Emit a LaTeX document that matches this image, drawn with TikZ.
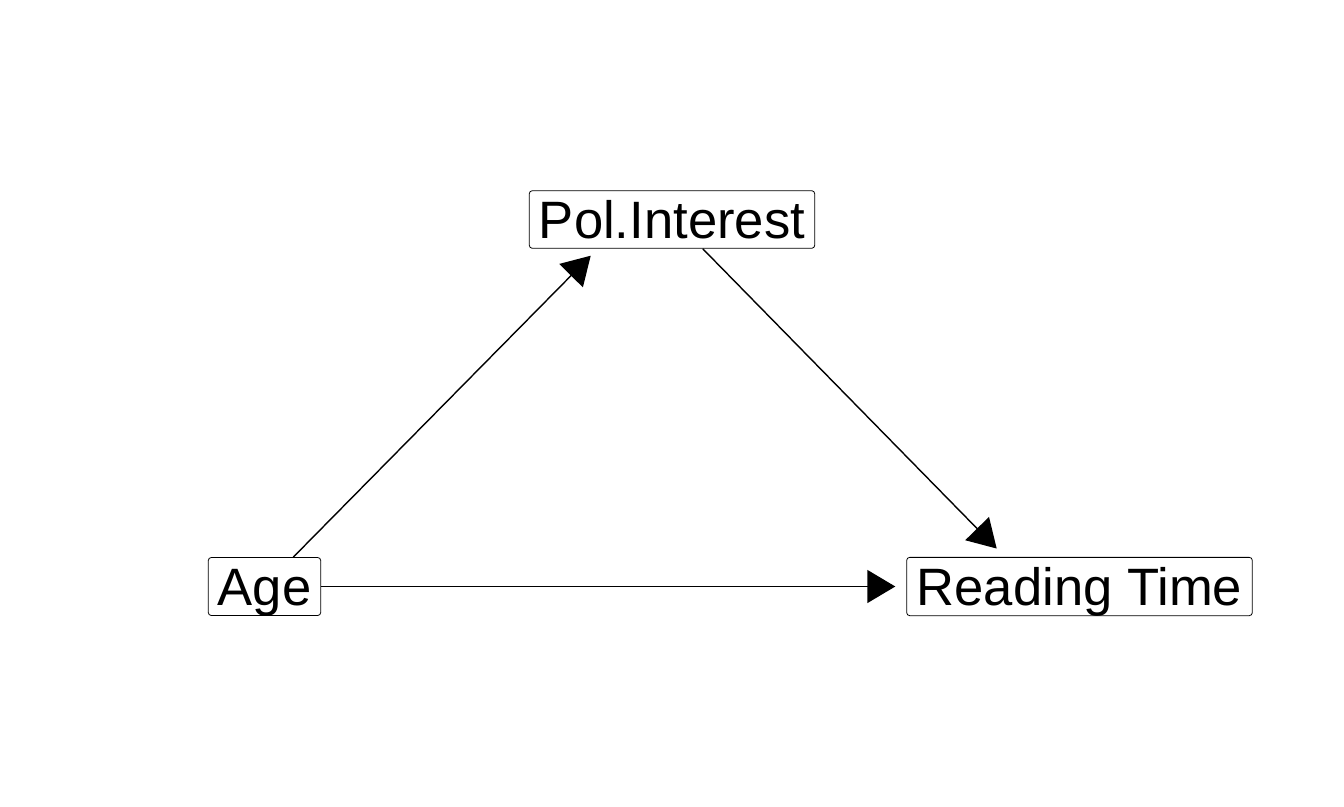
\documentclass[tikz,border=0pt]{standalone}
\usepackage{fontspec}
\setmainfont{Liberation Sans}
\usetikzlibrary{arrows.meta}
\begin{document}
\begin{tikzpicture}[x=1pt,y=1pt,
  varbox/.style={draw=black,line width=0.8pt,rounded corners=3pt,inner sep=0pt,
    font=\fontsize{52.6}{60}\selectfont,text height=37.7pt,text depth=0pt,align=center},
  edge/.style={line width=1.4pt,-{Triangle[length=28pt,width=33pt]}}]
\useasboundingbox (0,0) rectangle (1344,-806);
\node[varbox,minimum width=285.4pt,minimum height=57.6pt] (pol) at (672,-219.5) {Pol.Interest};
\node[varbox,minimum width=112.4pt,minimum height=58pt] (age) at (264.5,-586.5) {Age};
\node[varbox,minimum width=345.6pt,minimum height=58.3pt] (read) at (1079.5,-586.5) {Reading Time};
\draw[edge] ([xshift=28.8pt]age.north) -- ([xshift=-81.3pt,yshift=-7pt]pol.south);
\draw[edge] ([xshift=30.7pt]pol.south) -- ([xshift=-82.8pt,yshift=8.4pt]read.north);
\draw[edge] (age.east) -- ([xshift=-11pt]read.west);
\end{tikzpicture}
\end{document}
